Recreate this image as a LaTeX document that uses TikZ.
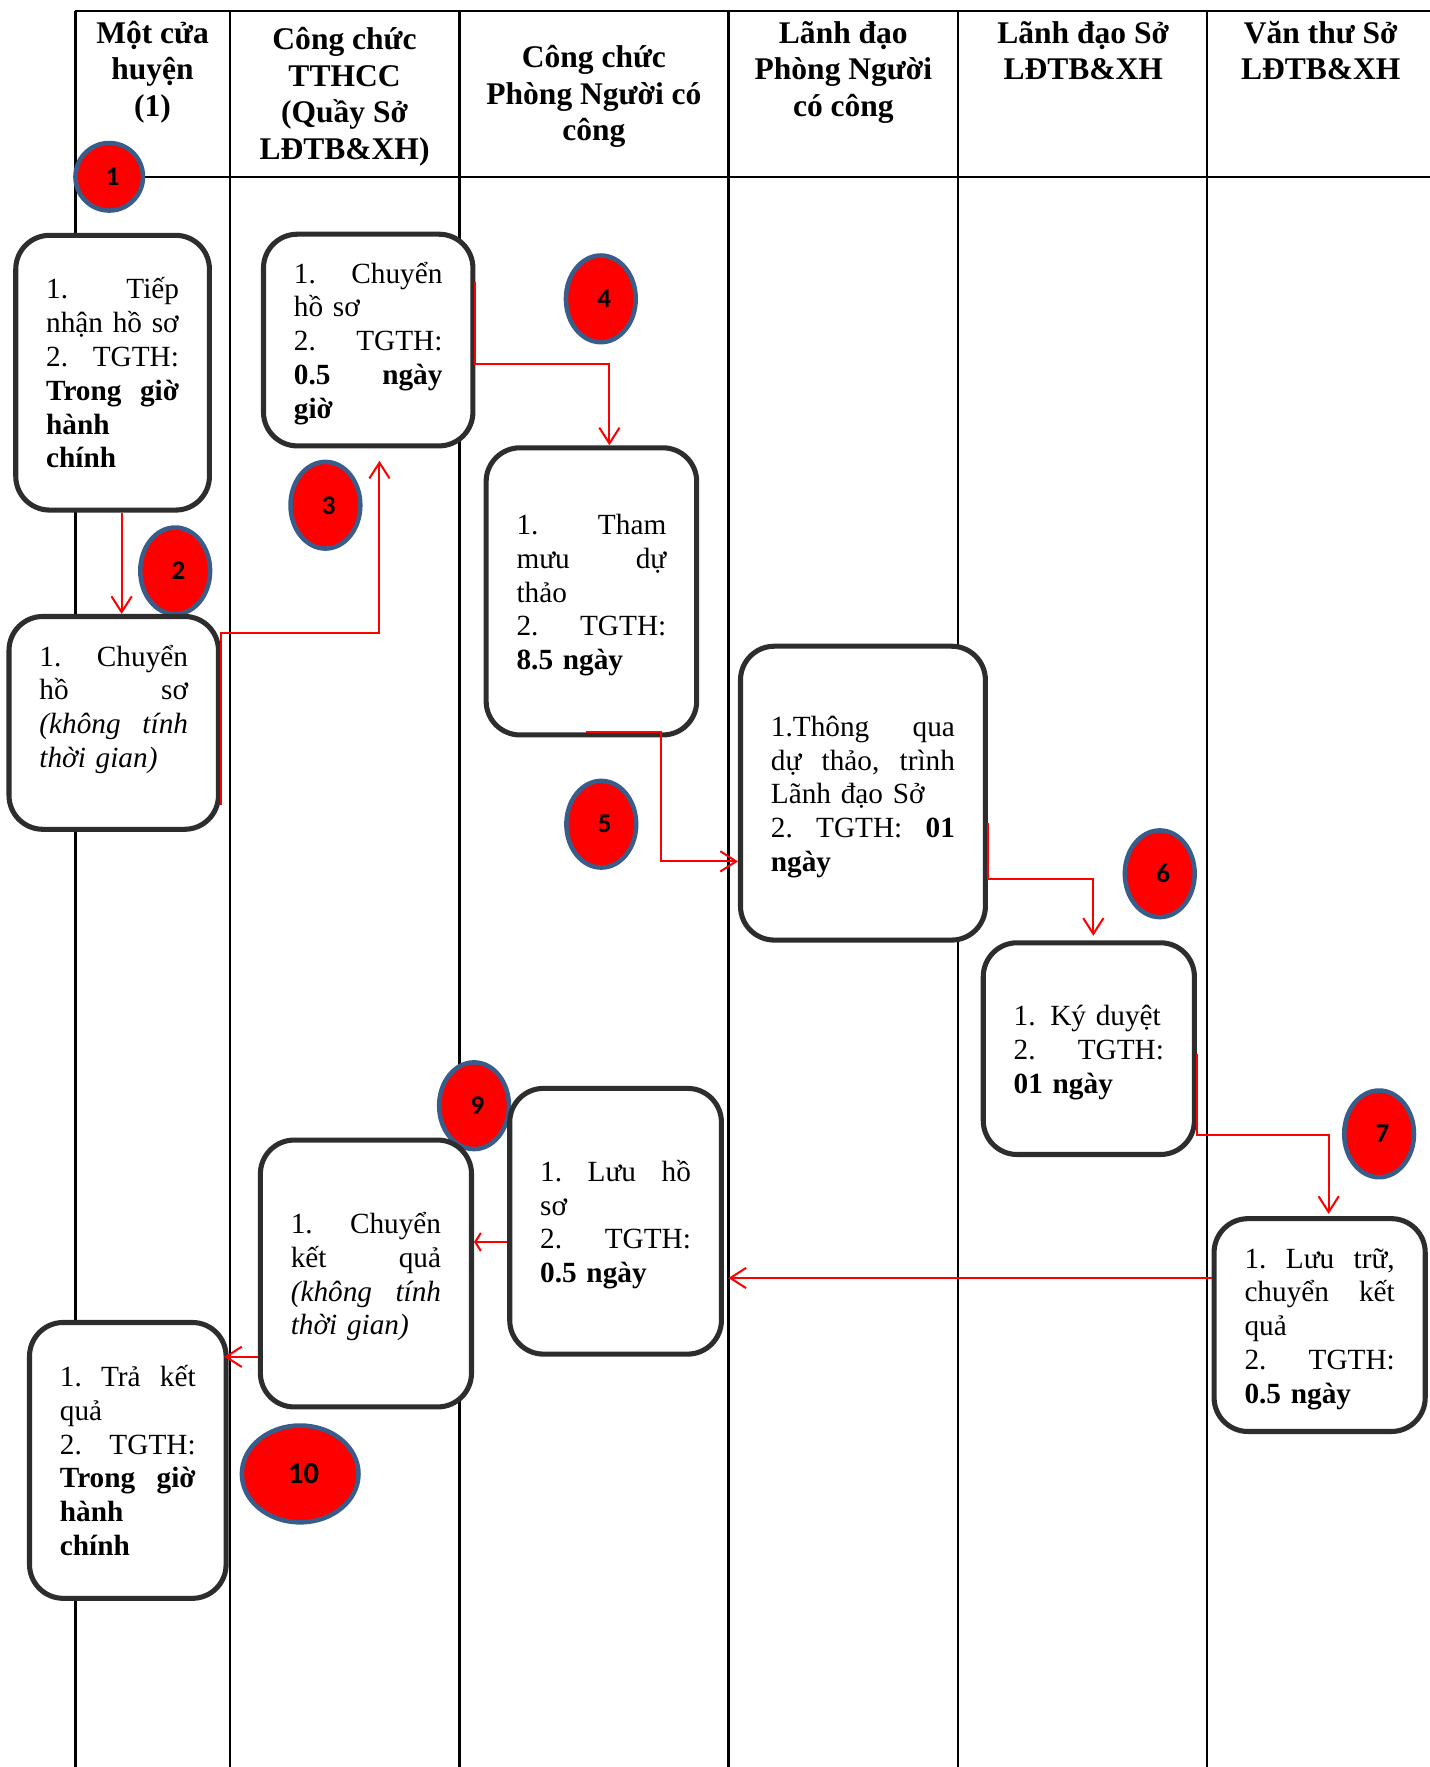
\documentclass[tikz,border=0pt]{standalone}
\usepackage{fontspec}
\setmainfont{Liberation Serif}
\newfontfamily\numfont{Carlito}
\usepackage{tikz}
\usetikzlibrary{shapes.geometric,arrows.meta,calc}
\definecolor{numblue}{RGB}{56,93,138}
\definecolor{boxgray}{RGB}{45,45,45}
% fixed height of first line and depth of last line in a step box
\newcommand{\lntop}{\rule{0pt}{16pt}}
\newcommand{\lnbot}{\rule[-6.5pt]{0pt}{6.5pt}}

\begin{document}
\begin{tikzpicture}[x=0.5pt, y=-0.5pt,
    lane/.style={line width=1pt},
    head/.style={align=center, font=\bfseries\fontsize{14}{16.2}\selectfont},
    box/.style={draw=boxgray, line width=2.25pt, rounded corners=15pt, fill=white,
        align=left, inner xsep=13.5pt, inner ysep=0pt, font=\fontsize{13}{15}\selectfont},
    num/.style={ellipse, draw=numblue, fill=red, line width=2pt, inner sep=0pt,
        minimum width=31pt, minimum height=38.5pt, font=\numfont\bfseries\fontsize{12}{12}\selectfont,
        execute at begin node=\hspace*{3pt}},
    flow/.style={draw=red, line width=0.9pt, -{Straight Barb[length=7pt,width=9pt]}}]
    \useasboundingbox (0,0) rectangle (1270,1569.3);

    % Lanes
    \draw[lane] (67,10) -- (1270,10);
    \draw[lane] (67,157) -- (1270,157);
    \foreach \x in {67,204,408,647,851,1072} {
        \draw[lane] (\x,10) -- (\x,1569.3);
    }
    \node[head] (h1) at (135.5,64) {Một cửa\\ huyện\\ (1)};
    \node[head] (h2) at (306,86) {Công chức\\ TTHCC\\ (Quầy Sở\\ LĐTB\&XH)};
    \node[head] (h3) at (527.5,86) {Công chức\\ Phòng Người có\\ công};
    \node[head] (h4) at (749,64) {Lãnh đạo\\ Phòng Người\\ có công};
    \node[head] (h5) at (962,45) {Lãnh đạo Sở\\ LĐTB\&XH};
    \node[head] (h6) at (1173,45) {Văn thư Sở\\ LĐTB\&XH};

    % Step numbers
    \node[num, minimum width=30pt, minimum height=30pt] (s1) at (97,157) {1};
    \node[num] (s2) at (155.6,507) {2};
    \node[num] (s3) at (289,448.7) {3};
    \node[num] (s4) at (533.6,265.4) {4};
    \node[num] (s5) at (534,732) {5};
    \node[num] (s6) at (1030,776) {6};
    \node[num] (s7) at (1224.8,1007) {7};
    \node[num] (s9) at (421,982) {9};
    \node[num, minimum width=51.8pt, minimum height=43pt, execute at begin node={},
        font=\numfont\bfseries\fontsize{13.5}{13.5}\selectfont] (s10) at (266.6,1309) {10};

    % Steps
    \node[box, minimum height=122pt, text width=59pt] (tiepnhan) at (100,331)
        {\lntop 1.\hfill Tiếp\\ nhận hồ sơ\\ 2.\hfill TGTH:\\ \textbf{Trong\hfill giờ}\\ \textbf{hành}\\ \textbf{chính}\lnbot};
    \node[box, minimum height=94.5pt, text width=66pt] (chuyenhs) at (101,642)
        {\lntop 1.\hfill Chuyển\\ hồ\hfill sơ\\ \textit{(không\hfill tính}\\ \textit{thời gian)}\\ \lnbot};
    \node[box, minimum height=94pt, text width=66pt] (chuyenqs) at (327,302)
        {\lntop 1.\hfill Chuyển\\ hồ sơ\\ 2.\hfill TGTH:\\ \textbf{0.5\hfill ngày}\\ \textbf{giờ}\lnbot};
    \node[box, minimum height=127.5pt, text width=66.5pt] (thammuu) at (525.25,525.2)
        {\lntop 1.\hfill Tham\\ mưu\hfill dự\\ thảo\\ 2.\hfill TGTH:\\ \textbf{8.5 ngày}\lnbot};
    \node[box, minimum height=130.5pt, text width=81.75pt] (thongqua) at (766.4,704.4)
        {\lntop 1.Thông\hfill qua\\ dự\hfill thảo,\hfill trình\\ Lãnh đạo Sở\\ 2.\hfill TGTH:\hfill \textbf{01}\\ \textbf{ngày}\lnbot};
    \node[box, minimum height=94pt, text width=66.75pt] (kyduyet) at (967,931.3)
        {\lntop 1. Ký duyệt\\ 2.\hfill TGTH:\\ \textbf{01 ngày}\lnbot};
    \node[box, minimum height=94.5pt, text width=66.75pt] (luutru) at (1172,1176.8)
        {\lntop 1.\hfill Lưu\hfill trữ,\\ chuyển\hfill kết\\ quả\\ 2.\hfill TGTH:\\ \textbf{0.5 ngày}\lnbot};
    \node[box, minimum height=118pt, text width=67pt] (luuhs) at (546.7,1084.6)
        {\lntop 1.\hfill Lưu\hfill hồ\\ sơ\\ 2.\hfill TGTH:\\ \textbf{0.5 ngày}\lnbot};
    \node[box, minimum height=118.5pt, text width=66.75pt] (chuyenkq) at (325,1131)
        {\lntop 1.\hfill Chuyển\\ kết\hfill quả\\ \textit{(không\hfill tính}\\ \textit{thời gian)}\lnbot};
    \node[box, minimum height=122.5pt, text width=60.3pt] (trakq) at (113.5,1297)
        {\lntop 1.\hfill Trả\hfill kết\\ quả\\ 2.\hfill TGTH:\\ \textbf{Trong\hfill giờ}\\ \textbf{hành}\\ \textbf{chính}\lnbot};

    % Flow
    \draw[flow] ([xshift=4pt]tiepnhan.south) -- ([xshift=4pt]tiepnhan.south |- chuyenhs.north);
    \draw[flow] ([yshift=-36.5pt]chuyenhs.east) -- ([yshift=40pt]chuyenhs.east)
        -| ([xshift=5pt,yshift=-5.5pt]chuyenqs.south);
    \draw[flow] ([yshift=26pt]chuyenqs.east) -- ([yshift=-10.5pt]chuyenqs.east)
        -| ([xshift=8pt]thammuu.north);
    \draw[flow] ([xshift=-2.5pt,yshift=2.5pt]thammuu.south) -- ([xshift=31pt,yshift=2.5pt]thammuu.south)
        |- ([yshift=-30.3pt]thongqua.west);
    \draw[flow] ([yshift=-13.3pt]thongqua.east) -- ([yshift=-38.3pt]thongqua.east)
        -| ([xshift=2pt,yshift=2pt]kyduyet.north);
    \draw[flow] ([yshift=-2.35pt]kyduyet.east) -- ([yshift=-38.35pt]kyduyet.east)
        -| ([xshift=4pt,yshift=1pt]luutru.north);
    \draw[flow] ([yshift=20.9pt]luutru.west) -- ([xshift=2pt,yshift=20.9pt]luuhs.east |- luutru.west);
    \draw[flow, -{Straight Barb[length=2.5pt,width=8pt]}] ([yshift=-9.2pt]luuhs.west)
        -- ([yshift=-9.2pt]chuyenkq.east |- luuhs.west);
    \draw[flow] ([yshift=-37pt]chuyenkq.west) -- ([xshift=-2pt,yshift=-37pt]trakq.east |- chuyenkq.west);
\end{tikzpicture}
\end{document}
